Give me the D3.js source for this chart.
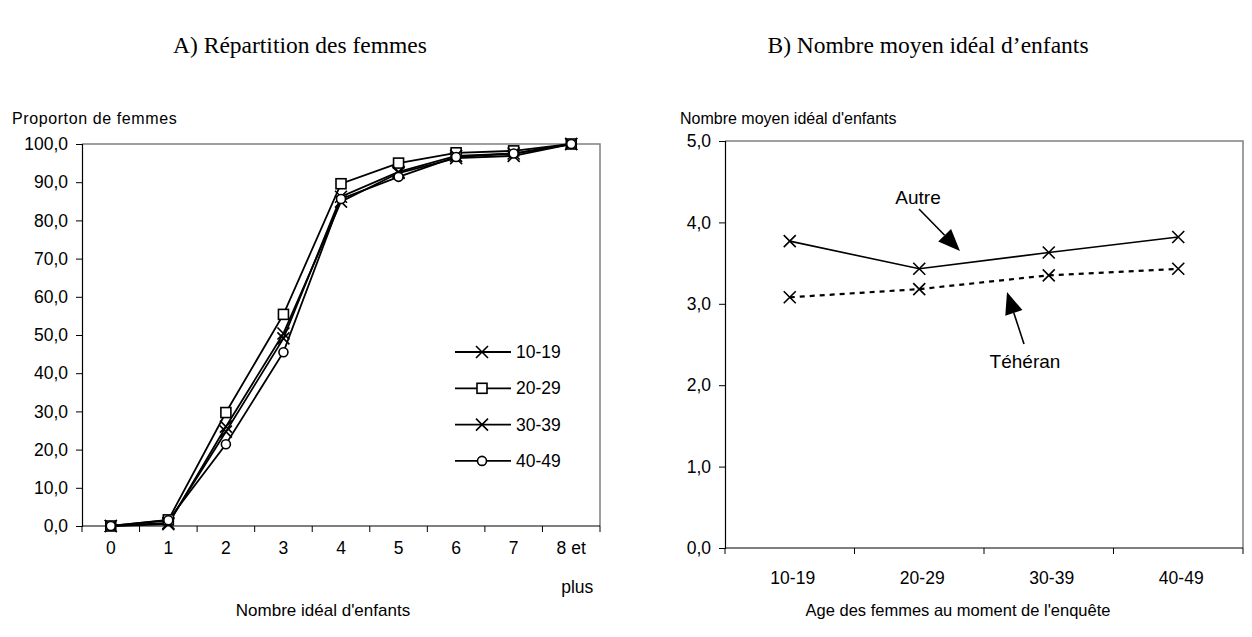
<!DOCTYPE html>
<html><head><meta charset="utf-8">
<script src="https://cdn.jsdelivr.net/npm/d3@7"></script>
<style>body{margin:0;background:#fff}svg{display:block}</style>
</head><body>
<svg id="c" width="1252" height="637"></svg>
<script>
// ---- Data ----
const catsA = ["0","1","2","3","4","5","6","7","8 et plus"];
const ticksA = [0,10,20,30,40,50,60,70,80,90,100];
const s1019 = [0, 0.5, 26.0, 50.4, 84.9, 92.4, 96.3, 96.9, 100];
const s2029 = [0, 1.6, 29.7, 55.4, 89.6, 95.0, 97.7, 98.2, 100];
const s3039 = [0, 0.8, 24.7, 49.1, 86.2, 92.7, 96.9, 97.5, 100];
const s4049 = [0, 1.5, 21.4, 45.5, 85.6, 91.4, 96.6, 97.5, 100];
const seriesNames = ["10-19","20-29","30-39","40-49"];
const seriesMarkers = ["x","square","x","circle"];

const catsB = ["10-19","20-29","30-39","40-49"];
const ticksB = [0,1,2,3,4,5];
const autre = [3.77, 3.43, 3.63, 3.82];
const teheran = [3.08, 3.18, 3.35, 3.43];

const svg = d3.select("#c");
const fmt = v => d3.format(".1f")(v).replace(".", ",");
const AR = "Liberation Sans, Arial, sans-serif";
const TM = "Liberation Serif, Times New Roman, serif";
const FS = 17.5;

function marker(g, type, x, y) {
  if (type === "x") {
    const r = 6;
    g.append("path").attr("d", `M${x-r},${y-r}L${x+r},${y+r}M${x-r},${y+r}L${x+r},${y-r}`)
      .attr("stroke", "#000").attr("stroke-width", 1.6).attr("fill", "none");
  } else if (type === "square") {
    g.append("rect").attr("x", x-5).attr("y", y-5).attr("width", 10).attr("height", 10)
      .attr("fill", "#fff").attr("stroke", "#000").attr("stroke-width", 1.6);
  } else {
    g.append("circle").attr("cx", x).attr("cy", y).attr("r", 4.5)
      .attr("fill", "#fff").attr("stroke", "#000").attr("stroke-width", 1.6);
  }
}

function frame(x0, x1, y0, y1, yScale, ticks, nb) {
  const g = svg.append("g");
  g.append("path").attr("d", `M${x0},${y0}H${x1}V${y1}`).attr("stroke", "#808080").attr("stroke-width", 1.5).attr("fill", "none");
  const ya = g.append("g").attr("transform", `translate(${x0},0)`)
    .call(d3.axisLeft(yScale).tickValues(ticks).tickFormat(fmt).tickSizeOuter(0).tickSize(6).tickPadding(8));
  ya.select(".domain").attr("stroke", "#000").attr("stroke-width", 1.2);
  ya.selectAll(".tick line").attr("stroke", "#000");
  ya.selectAll("text").attr("font-family", AR).attr("font-size", FS).attr("fill", "#000");
  const bw = (x1 - x0) / nb;
  g.append("line").attr("x1", x0).attr("x2", x1).attr("y1", y1).attr("y2", y1).attr("stroke", "#000").attr("stroke-width", 1.2);
  for (let i = 0; i <= nb; i++) {
    g.append("line").attr("x1", x0 + i*bw).attr("x2", x0 + i*bw).attr("y1", y1).attr("y2", y1 + 6).attr("stroke", "#000").attr("stroke-width", 1);
  }
  return g;
}

// ---- Chart A ----
{
  const x0 = 82, x1 = 600, y0 = 144, y1 = 526;
  const x = d3.scaleBand().domain(catsA).range([x0, x1]);
  const y = d3.scaleLinear().domain([0, 100]).range([y1, y0]);
  const g = frame(x0, x1, y0, y1, y, ticksA, catsA.length);
  catsA.forEach((c, i) => {
    const cx = x(c) + x.bandwidth()/2;
    if (c === "8 et plus") {
      g.append("text").attr("x", cx).attr("y", y1 + 28).attr("text-anchor", "middle").attr("font-family", AR).attr("font-size", FS).text("8 et");
      g.append("text").attr("x", cx + 6).attr("y", y1 + 67).attr("text-anchor", "middle").attr("font-family", AR).attr("font-size", FS).text("plus");
    } else {
      g.append("text").attr("x", cx).attr("y", y1 + 28).attr("text-anchor", "middle").attr("font-family", AR).attr("font-size", FS).text(c);
    }
  });
  const all = [s1019, s2029, s3039, s4049];
  const line = d3.line().x((d, i) => x(catsA[i]) + x.bandwidth()/2).y(d => y(d));
  all.forEach((s) => {
    g.append("path").attr("d", line(s)).attr("fill", "none").attr("stroke", "#000").attr("stroke-width", 1.8);
  });
  all.forEach((s, k) => {
    s.forEach((v, i) => marker(g, seriesMarkers[k], x(catsA[i]) + x.bandwidth()/2, y(v)));
  });
  seriesNames.forEach((n, k) => {
    const ly = 352 + k*36.3;
    g.append("line").attr("x1", 455).attr("x2", 511).attr("y1", ly).attr("y2", ly).attr("stroke", "#000").attr("stroke-width", 1.8);
    marker(g, seriesMarkers[k], 482, ly);
    g.append("text").attr("x", 516).attr("y", ly + 6).attr("font-family", AR).attr("font-size", FS).text(n);
  });
  svg.append("text").attr("x", 300).attr("y", 53).attr("text-anchor", "middle").attr("font-family", TM).attr("font-size", 23.5).text("A) Répartition des femmes");
  svg.append("text").attr("x", 12).attr("y", 124).attr("font-family", AR).attr("font-size", 16).attr("letter-spacing", 0.6).text("Proporton de femmes");
  svg.append("text").attr("x", 323).attr("y", 616).attr("text-anchor", "middle").attr("font-family", AR).attr("font-size", 17).text("Nombre idéal d'enfants");
}

// ---- Chart B ----
{
  const x0 = 725, x1 = 1243, y0 = 141, y1 = 548;
  const x = d3.scalePoint().domain(catsB).range([x0, x1]).padding(0.5);
  const y = d3.scaleLinear().domain([0, 5]).range([y1, y0]);
  const g = frame(x0, x1, y0, y1, y, ticksB, catsB.length);
  catsB.forEach(c => {
    g.append("text").attr("x", x(c) + 3).attr("y", y1 + 36).attr("text-anchor", "middle").attr("font-family", AR).attr("font-size", FS).text(c);
  });
  const line = d3.line().x((d, i) => x(catsB[i])).y(d => y(d));
  g.append("path").attr("d", line(autre)).attr("fill", "none").attr("stroke", "#000").attr("stroke-width", 1.6);
  g.append("path").attr("d", line(teheran)).attr("fill", "none").attr("stroke", "#000").attr("stroke-width", 2.2).attr("stroke-dasharray", "5,5");
  autre.forEach((v, i) => marker(g, "x", x(catsB[i]), y(v)));
  teheran.forEach((v, i) => marker(g, "x", x(catsB[i]), y(v)));

  function arrow(xa, ya, xb, yb) {
    const ang = Math.atan2(yb - ya, xb - xa);
    const L = 22, W = 9;
    const bx = xb - L*Math.cos(ang), by = yb - L*Math.sin(ang);
    g.append("line").attr("x1", xa).attr("y1", ya).attr("x2", bx).attr("y2", by).attr("stroke", "#000").attr("stroke-width", 1.6);
    const px = -Math.sin(ang)*W, py = Math.cos(ang)*W;
    g.append("path").attr("d", `M${xb},${yb}L${bx+px},${by+py}L${bx-px},${by-py}Z`).attr("fill", "#000");
  }
  arrow(919, 209, 960, 251);
  arrow(1024, 344, 1007, 292);
  g.append("text").attr("x", 918).attr("y", 204).attr("text-anchor", "middle").attr("font-family", AR).attr("font-size", 19).text("Autre");
  g.append("text").attr("x", 1025).attr("y", 368).attr("text-anchor", "middle").attr("font-family", AR).attr("font-size", 19).text("Téhéran");

  svg.append("text").attr("x", 928).attr("y", 53).attr("text-anchor", "middle").attr("font-family", TM).attr("font-size", 23.5).text("B) Nombre moyen idéal d’enfants");
  svg.append("text").attr("x", 680).attr("y", 124).attr("font-family", AR).attr("font-size", 16).text("Nombre moyen idéal d'enfants");
  svg.append("text").attr("x", 958).attr("y", 616).attr("text-anchor", "middle").attr("font-family", AR).attr("font-size", 16.5).text("Age des femmes au moment de l'enquête");
}
</script>
</body></html>
